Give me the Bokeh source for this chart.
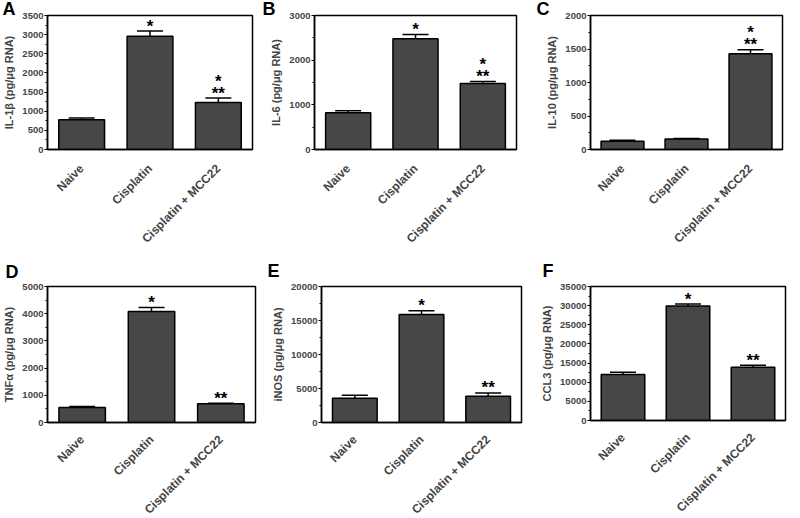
import math
from bokeh.plotting import figure
from bokeh.layouts import column, row
from bokeh.models import (ColumnDataSource, Range1d, FactorRange, SingleIntervalTicker,
                          Whisker, TeeHead)
from bokeh.core.properties import value
from bokeh.embed import file_html
from bokeh.resources import INLINE

# ---------------- data ----------------
groups = ["Naive", "Cisplatin", "Cisplatin + MCC22"]

il1b_mean = [775, 2960, 1230]
il1b_err = [50, 135, 115]
il1b_lo = ["", "*", "**"]
il1b_hi = ["", "", "*"]

il6_mean = [820, 2480, 1480]
il6_err = [45, 95, 45]
il6_lo = ["", "*", "**"]
il6_hi = ["", "", "*"]

il10_mean = [125, 155, 1430]
il10_err = [12, 10, 60]
il10_lo = ["", "", "**"]
il10_hi = ["", "", "*"]

tnfa_mean = [555, 4080, 690]
tnfa_err = [35, 150, 15]
tnfa_lo = ["", "*", "**"]
tnfa_hi = ["", "", ""]

inos_mean = [3550, 15900, 3850]
inos_err = [450, 550, 500]
inos_lo = ["", "*", "**"]
inos_hi = ["", "", ""]

ccl3_mean = [12000, 29900, 13900]
ccl3_err = [600, 500, 500]
ccl3_lo = ["", "*", "**"]
ccl3_hi = ["", "", ""]

FONT = "Liberation Sans"
BAR = "#474747"


def panel(letter, ylabel, means, errs, lo, hi, ymax, interval,
          left, fw, right, top, fh, bottom, l_offset, l_standoff, x_standoff):
    src = ColumnDataSource(dict(
        x=groups, mean=means, top=[m + e for m, e in zip(means, errs)], lo=lo, hi=hi))
    p = figure(x_range=FactorRange(*groups), y_range=Range1d(0, ymax),
               frame_width=fw, frame_height=fh,
               min_border_left=left, min_border_right=right,
               min_border_top=top, min_border_bottom=bottom,
               output_backend="svg", toolbar_location=None,
               background_fill_color="white", border_fill_color="white")
    p.vbar(x="x", top="mean", width=0.67, source=src, fill_color=BAR,
           line_color="black", line_width=1.5)
    w = Whisker(source=src, base="x", upper="top", lower="mean", dimension="height",
                line_color="black", line_width=1.5,
                upper_head=TeeHead(size=26, line_color="black", line_width=1.5),
                lower_head=None)
    p.add_layout(w)
    p.text(x="x", y="top", text="lo", source=src, text_align="center",
           text_baseline="alphabetic", y_offset=-5, text_font=value(FONT),
           text_font_style="bold", text_font_size="17px", text_color="black")
    p.text(x="x", y="top", text="hi", source=src, text_align="center",
           text_baseline="alphabetic", y_offset=-17, text_font=value(FONT),
           text_font_style="bold", text_font_size="17px", text_color="black")

    p.xgrid.visible = False
    p.ygrid.visible = False
    p.outline_line_color = "black"
    p.outline_line_width = 1.5

    ya = p.yaxis[0]
    ya.ticker = SingleIntervalTicker(interval=interval, num_minor_ticks=2)
    ya.axis_label = ylabel
    ya.axis_label_text_font = FONT
    ya.axis_label_text_font_style = "bold"
    ya.axis_label_text_font_size = "11px"
    ya.axis_label_standoff = 4
    ya.major_label_text_font = FONT
    ya.major_label_text_font_style = "bold"
    ya.major_label_text_font_size = "9.5px"
    ya.major_label_standoff = 1
    ya.axis_line_width = 1.5
    ya.major_tick_line_width = 1.2
    ya.major_tick_in = 0
    ya.major_tick_out = 3
    ya.minor_tick_in = 0
    ya.minor_tick_out = 2

    xa = p.xaxis[0]
    xa.major_label_orientation = math.pi / 4
    xa.major_label_text_font = FONT
    xa.major_label_text_font_style = "bold"
    xa.major_label_text_font_size = "12px"
    xa.major_label_standoff = x_standoff
    xa.major_tick_line_color = None
    xa.minor_tick_line_color = None
    xa.axis_line_width = 1.5

    t = p.title
    t.text = letter
    t.text_font = FONT
    t.text_font_style = "bold"
    t.text_font_size = "18px"
    t.text_color = "black"
    t.align = "left"
    t.vertical_align = "top"
    t.offset = l_offset
    t.standoff = l_standoff
    return p


pA = panel("A", "IL-1β (pg/μg RNA)", il1b_mean, il1b_err, il1b_lo, il1b_hi, 3500, 500,
           45, 205, 7, 15, 134, 98, -45, -10, 11)
pB = panel("B", "IL-6 (pg/μg RNA)", il6_mean, il6_err, il6_lo, il6_hi, 3000, 1000,
           55, 202, 8, 15, 134, 98, -52, -10, 11)
pC = panel("C", "IL-10 (pg/μg RNA)", il10_mean, il10_err, il10_lo, il10_hi, 2000, 500,
           66, 192, 4, 15, 134, 98, -54, -10, 11)
pD = panel("D", "TNFα (pg/μg RNA)", tnfa_mean, tnfa_err, tnfa_lo, tnfa_hi, 5000, 1000,
           42, 208, 7, 29, 136, 90, -42, 5, 9)
pE = panel("E", "iNOS (pg/μg RNA)", inos_mean, inos_err, inos_lo, inos_hi, 20000, 5000,
           59, 200, 6, 33, 136, 86, -54, 7, 9)
pF = panel("F", "CCL3 (pg/μg RNA)", ccl3_mean, ccl3_err, ccl3_lo, ccl3_hi, 35000, 5000,
           63, 195, 4, 33, 134, 88, -48, 7, 9)

layout = column(row(pA, pB, pC), row(pD, pE, pF))
open("out.html", "w").write(file_html(layout, INLINE))
